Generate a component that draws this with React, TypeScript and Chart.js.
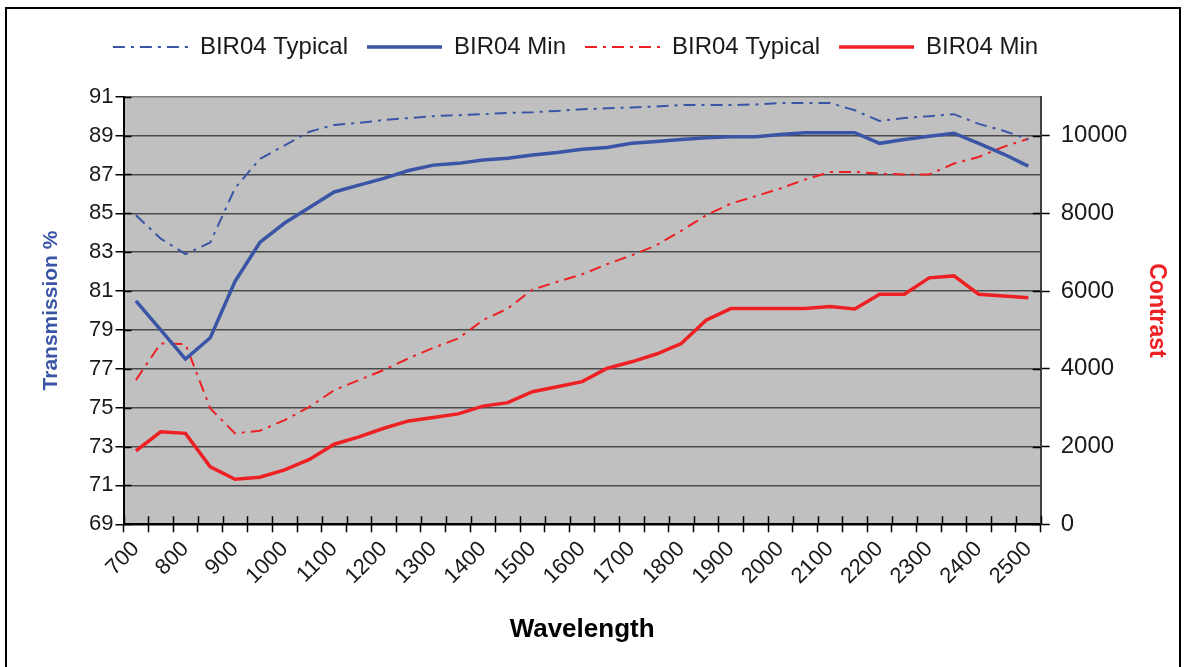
import React, { useEffect, useRef } from 'react';
import { Chart, registerables } from 'chart.js';

Chart.register(...registerables);

// ---------- data ----------
const wavelengths = [
  700, 750, 800, 850, 900, 950, 1000, 1050, 1100, 1150, 1200, 1250, 1300,
  1350, 1400, 1450, 1500, 1550, 1600, 1650, 1700, 1750, 1800, 1850, 1900,
  1950, 2000, 2050, 2100, 2150, 2200, 2250, 2300, 2350, 2400, 2450, 2500,
];

const blueTypical = [
  84.9, 83.7, 82.9, 83.5, 86.3, 87.8, 88.5, 89.2, 89.55, 89.65, 89.8, 89.9, 90.0,
  90.05, 90.1, 90.17, 90.2, 90.27, 90.35, 90.4, 90.45, 90.5, 90.57, 90.57, 90.57,
  90.6, 90.68, 90.68, 90.68, 90.3, 89.75, 89.9, 90.0, 90.1, 89.6, 89.25, 88.8,
];

const blueMin = [
  80.5, 79.0, 77.5, 78.6, 81.5, 83.5, 84.5, 85.3, 86.1, 86.45, 86.8, 87.2, 87.48,
  87.57, 87.74, 87.83, 88.0, 88.13, 88.3, 88.39, 88.6, 88.7, 88.8, 88.89, 88.94,
  88.94, 89.06, 89.15, 89.15, 89.15, 88.6, 88.8, 88.97, 89.12, 88.6, 88.05, 87.43,
];

const redTypical = [
  3710, 4654, 4636, 2980, 2340, 2407, 2680, 3020, 3450, 3710, 3970, 4270, 4540,
  4780, 5250, 5550, 6040, 6240, 6430, 6690, 6920, 7180, 7550, 7950, 8250,
  8440, 8640, 8870, 9065, 9065, 9020, 9000, 9000, 9280, 9450, 9710, 9920,
];

const redMin = [
  1890, 2380, 2340, 1480, 1160, 1210, 1400, 1670, 2060, 2250, 2470, 2660, 2750,
  2840, 3040, 3130, 3410, 3540, 3670, 4010, 4180, 4380, 4650, 5250, 5550,
  5550, 5550, 5550, 5600, 5540, 5920, 5920, 6340, 6390, 5920, 5870, 5830,
];

const contrastTicks = [0, 2000, 4000, 6000, 8000, 10000];

const seriesLabels = ['BIR04 Typical', 'BIR04 Min', 'BIR04 Typical', 'BIR04 Min'];

// ---------- styles ----------
const BLUE = '#3b55a6';
const RED = '#ed2024';
const TEXT = '#1a1a1a';
const DASH_DOT = [12, 6, 3, 6];

const plotDecor = {
  id: 'plotDecor',
  beforeDraw(chart: any) {
    const { ctx, chartArea: a } = chart;
    ctx.save();
    ctx.fillStyle = '#c0c0c0';
    ctx.fillRect(a.left, a.top, a.right - a.left, a.bottom - a.top);
    ctx.restore();
  },
  beforeDatasetsDraw(chart: any) {
    const { ctx, chartArea: a, scales } = chart;
    ctx.save();
    ctx.strokeStyle = '#000';
    ctx.lineWidth = 1.5;
    ctx.beginPath();
    const xs = scales.x;
    const n = wavelengths.length;
    const p0 = xs.getPixelForValue(0);
    const step = xs.getPixelForValue(1) - p0;
    for (let i = 0; i <= n; i++) {
      const px = Math.round(p0 - step / 2 + i * step) + 0.5;
      ctx.moveTo(px, a.bottom);
      ctx.lineTo(px, a.bottom - 8);
    }
    scales.y.ticks.forEach((t: any) => {
      const py = Math.round(scales.y.getPixelForValue(t.value)) + 0.5;
      ctx.moveTo(a.left, py);
      ctx.lineTo(a.left + 8, py);
    });
    scales.y1.ticks.forEach((t: any) => {
      const py = Math.round(scales.y1.getPixelForValue(t.value)) + 0.5;
      ctx.moveTo(a.right, py);
      ctx.lineTo(a.right - 8, py);
    });
    ctx.stroke();
    ctx.restore();
  },
};

export default function App() {
  const canvasRef = useRef<HTMLCanvasElement | null>(null);

  useEffect(() => {
    if (!canvasRef.current) return;
    Chart.defaults.font.family = "'Liberation Sans', Arial, sans-serif";
    Chart.defaults.color = TEXT;

    const chart = new Chart(canvasRef.current, {
      type: 'line',
      data: {
        labels: wavelengths.map(String),
        datasets: [
          {
            label: seriesLabels[0],
            data: blueTypical,
            yAxisID: 'y',
            borderColor: BLUE,
            backgroundColor: BLUE,
            borderWidth: 2,
            borderDash: DASH_DOT,
            pointRadius: 0,
            tension: 0,
          },
          {
            label: seriesLabels[1],
            data: blueMin,
            yAxisID: 'y',
            borderColor: BLUE,
            backgroundColor: BLUE,
            borderWidth: 3.5,
            pointRadius: 0,
            tension: 0,
          },
          {
            label: seriesLabels[2],
            data: redTypical,
            yAxisID: 'y1',
            borderColor: RED,
            backgroundColor: RED,
            borderWidth: 2,
            borderDash: DASH_DOT,
            pointRadius: 0,
            tension: 0,
          },
          {
            label: seriesLabels[3],
            data: redMin,
            yAxisID: 'y1',
            borderColor: RED,
            backgroundColor: RED,
            borderWidth: 3.5,
            pointRadius: 0,
            tension: 0,
          },
        ],
      },
      options: {
        responsive: false,
        animation: false,
        devicePixelRatio: 1,
        layout: { padding: { top: 16, left: 0, right: 0, bottom: 0 } },
        plugins: {
          tooltip: { enabled: false },
          title: {
            display: true,
            text: '',
            weight: 500,
            font: { size: 10, lineHeight: 1 },
            padding: { top: 0, bottom: 17.7 },
          } as any,
          legend: {
            position: 'top',
            labels: {
              usePointStyle: true,
              pointStyle: 'line',
              pointStyleWidth: 75,
              font: { size: 24 },
              color: TEXT,
              padding: 19,
              generateLabels: (ch: any) =>
                ch.data.datasets.map((ds: any, i: number) => ({
                  text: ds.label,
                  fillStyle: ds.borderColor,
                  strokeStyle: ds.borderColor,
                  lineWidth: ds.borderWidth,
                  lineDash: ds.borderDash || [],
                  lineCap: 'butt',
                  pointStyle: 'line',
                  hidden: false,
                  fontColor: TEXT,
                  datasetIndex: i,
                })),
            },
          },
        },
        scales: {
          x: {
            type: 'category',
            offset: true,
            grid: {
              offset: true,
              drawOnChartArea: false,
              tickLength: 8,
              tickColor: '#000',
              tickWidth: 1.5,
            },
            border: { color: '#000', width: 2 },
            ticks: {
              autoSkip: false,
              maxRotation: 45,
              minRotation: 45,
              font: { size: 22 },
              color: TEXT,
              padding: 4,
              callback: (_v: any, i: number) => (i % 2 === 0 ? String(wavelengths[i]) : ''),
            },
            title: {
              display: true,
              text: 'Wavelength',
              color: '#000',
              font: { size: 26, weight: 'bold', lineHeight: 1 },
              padding: { top: 0, bottom: 24 },
            },
            afterFit: (s: any) => {
              s.height = 142.7;
            },
          },
          y: {
            type: 'linear',
            position: 'left',
            min: 69,
            max: 91,
            ticks: { stepSize: 2, font: { size: 22 }, color: TEXT, padding: 2 },
            grid: {
              color: (c: any) =>
                c.tick && c.tick.value === 91 ? '#808080' : c.tick && c.tick.value === 69 ? '#000' : '#4a4a4a',
              lineWidth: 1.5,
              tickColor: '#000',
              tickLength: 8,
              tickWidth: 1.5,
            },
            border: { color: '#000', width: 2 },
            title: {
              display: true,
              text: 'Transmission %',
              color: BLUE,
              font: { size: 21, weight: 'bold', lineHeight: 1 },
              padding: { top: 57.5, bottom: 0 },
            },
            afterFit: (s: any) => {
              s.width = 140.5;
            },
          },
          y1: {
            type: 'linear',
            position: 'right',
            min: 0,
            max: 11000,
            ticks: {
              font: { size: 24 },
              color: TEXT,
              padding: 11,
              callback: (v: any) => String(v),
            },
            afterBuildTicks: (s: any) => {
              s.ticks = contrastTicks.map((v) => ({ value: v }));
            },
            grid: {
              drawOnChartArea: false,
              tickLength: 9,
              tickColor: '#000',
              tickWidth: 1.5,
            },
            border: { color: '#404040', width: 2 },
            title: {
              display: true,
              text: 'Contrast',
              color: RED,
              font: { size: 23, weight: 'bold', lineHeight: 1 },
              padding: 0,
            },
            afterFit: (s: any) => {
              s.width = 127.3;
            },
          },
        },
      } as any,
      plugins: [plotDecor],
    });

    return () => chart.destroy();
  }, []);

  return (
    <div
      style={{
        position: 'fixed',
        left: 0,
        top: 0,
        width: 1186,
        height: 667,
        overflow: 'hidden',
        background: '#fff',
      }}
    >
      <div
        style={{
          position: 'absolute',
          left: 5,
          top: 7,
          width: 1172,
          height: 700,
          border: '2px solid #000',
        }}
      />
      <canvas
        ref={canvasRef}
        width={1185}
        height={667}
        style={{ position: 'absolute', left: -17, top: 0, width: 1185, height: 667 }}
      />
    </div>
  );
}
